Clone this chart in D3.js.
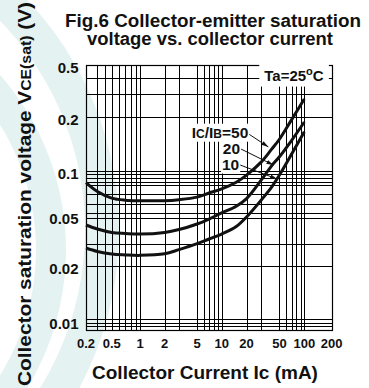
<!DOCTYPE html>
<html lang="en">
<head>
<meta charset="UTF-8">
<title>Fig.6 Collector-emitter saturation voltage</title>
<script src="https://cdn.jsdelivr.net/npm/d3@7"></script>
<style>
  body { margin: 0; background: #fff; }
  svg text { font-family: "Liberation Sans", Arial, sans-serif; font-weight: bold; fill: #111; }
</style>
</head>
<body>
<svg id="chart" width="369" height="388"></svg>
<script>
// collector current Ic (mA) where the curves were read
var ic = [0.2, 0.3, 0.5, 0.7, 1, 2, 3, 5, 7, 10, 15, 20, 30, 40, 50, 70, 100];
// VCE(sat) in volts for Ic/Ib = 50, 20, 10
var vce50 = [0.0837, 0.0730, 0.0659, 0.0638, 0.0633, 0.0633, 0.0643, 0.0669, 0.0713, 0.0759, 0.0841, 0.0939, 0.112, 0.1317, 0.150, 0.192, 0.274];
var vce20 = [0.0424, 0.0394, 0.0370, 0.0363, 0.0359, 0.0370, 0.0390, 0.0432, 0.0473, 0.0524, 0.0581, 0.0654, 0.0868, 0.1065, 0.120, 0.1475, 0.187];
var vce10 = [0.0278, 0.0261, 0.0249, 0.0245, 0.0243, 0.0250, 0.0270, 0.0301, 0.0328, 0.0359, 0.0412, 0.0491, 0.0638, 0.0777, 0.0939, 0.1238, 0.165];

var xTicks = [0.2, 0.5, 1, 2, 5, 10, 20, 50, 100, 200];
var yTicks = [0.5, 0.2, 0.1, 0.05, 0.02, 0.01];
var yTickLabels = ["0.5", "0.2", "0.1", "0.05", "0.02", "0.01"];

// grid lines as they appear on the scanned sheet (some are missing / doubled)
var xGrid = [0.3, 0.4, 0.5, 0.6, 0.7, 0.8, 0.9, 1, 2, 3, 5, 6, 7, 8, 9, 10, 20, 30, 50, 60, 70, 80, 90, 100];
var yGrid = [0.4, 0.3, 0.2, 0.1, 0.095, 0.09, 0.085, 0.08, 0.07, 0.06, 0.052, 0.048, 0.03, 0.02, 0.0102, 0.0098, 0.0094];
var yBottom = 0.0089;

// curve labels: text end point and leader line (data units)
var curveLabels = ["50", "20", "10"];
var labelPos = [[21, 0.152], [16.7, 0.1235], [16.3, 0.1013]];
var leaderFrom = [[21.4, 0.160], [17.1, 0.1324], [16.7, 0.108]];
var leaderTo = [[36.7, 0.136], [42.1, 0.108], [46.7, 0.0884]];

var svg = d3.select("#chart");

// the scanned grid is not perfectly even, so the log scales are piecewise
var x = d3.scaleLog()
    .domain([0.2, 0.5, 1, 10, 100, 200])
    .range([86, 111.7, 140, 221.7, 304.3, 331.7]);
var y = d3.scaleLog()
    .domain([0.5, 0.2, 0.1, 0.05, 0.02, 0.01])
    .range([65, 116.7, 171, 216, 266, 321]);

function crisp(v) { return Math.round(v) + 0.5; }

var pLeft = crisp(x(0.2)), pRight = crisp(x(200));
var pTop = crisp(y(0.5)), pBottom = crisp(y(yBottom));

// faint watermark arcs in the background
var arc = d3.arc();
svg.append("path")
    .attr("transform", "translate(-215,230)")
    .attr("d", arc({ innerRadius: 300, outerRadius: 334, startAngle: 0.6, endAngle: 2.4 }))
    .attr("fill", "#e5f2f2");
svg.append("path")
    .attr("transform", "translate(-200,250)")
    .attr("d", arc({ innerRadius: 236, outerRadius: 266, startAngle: 0.6, endAngle: 2.6 }))
    .attr("fill", "#e5f2f2");

// title
svg.append("text").attr("x", 213).attr("y", 26.5).attr("text-anchor", "middle")
    .attr("textLength", 296).attr("lengthAdjust", "spacingAndGlyphs")
    .style("font-size", "17.5px").text("Fig.6 Collector-emitter saturation");
svg.append("text").attr("x", 210).attr("y", 45).attr("text-anchor", "middle")
    .attr("textLength", 246).attr("lengthAdjust", "spacingAndGlyphs")
    .style("font-size", "17.5px").text("voltage vs. collector current");

// grid
var grid = svg.append("g").attr("stroke", "#000").attr("stroke-width", 1);
grid.selectAll(".vx").data(xGrid).enter().append("line")
    .attr("x1", function (d) { return crisp(x(d)); })
    .attr("x2", function (d) { return crisp(x(d)); })
    .attr("y1", pTop).attr("y2", pBottom);
grid.selectAll(".hy").data(yGrid).enter().append("line")
    .attr("y1", function (d) { return crisp(y(d)); })
    .attr("y2", function (d) { return crisp(y(d)); })
    .attr("x1", pLeft).attr("x2", pRight);
svg.append("rect")
    .attr("x", pLeft).attr("y", pTop)
    .attr("width", pRight - pLeft).attr("height", pBottom - pTop)
    .attr("fill", "none").attr("stroke", "#000").attr("stroke-width", 1.2);

// tick labels
svg.selectAll(".xt").data(xTicks).enter().append("text")
    .attr("x", function (d) { return x(d); })
    .attr("y", pBottom + 17)
    .attr("text-anchor", "middle")
    .style("font-size", "13px")
    .text(function (d) { return d; });
svg.selectAll(".yt").data(yTicks).enter().append("text")
    .attr("x", pLeft - 8)
    .attr("y", function (d) { return y(d) + 8; })
    .attr("text-anchor", "end")
    .style("font-size", "15px")
    .text(function (d, i) { return yTickLabels[i]; });

// axis titles
svg.append("text").attr("x", 205).attr("y", 379).attr("text-anchor", "middle")
    .style("font-size", "19px").text("Collector Current Ic (mA)");
var yt = svg.append("text")
    .attr("transform", "translate(31,194) rotate(-90)")
    .attr("text-anchor", "middle")
    .attr("textLength", 384).attr("lengthAdjust", "spacingAndGlyphs")
    .style("font-size", "18.5px");
yt.append("tspan").text("Collector saturation voltage V");
yt.append("tspan").style("font-size", "14px").text("CE(sat)");
yt.append("tspan").text(" (V)");

// curves
var series = [vce50, vce20, vce10];
var line = d3.line()
    .x(function (d, i) { return x(ic[i]); })
    .y(function (d) { return y(d); })
    .curve(d3.curveCatmullRom.alpha(0.5));
svg.selectAll(".curve").data(series).enter().append("path")
    .attr("d", function (d) { return line(d); })
    .attr("fill", "none").attr("stroke", "#111").attr("stroke-width", 3);

// white-backed labels
function boxed(g, pad) {
    var b = g.select("text").node().getBBox();
    g.insert("rect", "text")
        .attr("x", b.x - pad).attr("y", b.y - pad / 2)
        .attr("width", b.width + 2 * pad).attr("height", b.height + pad)
        .attr("fill", "#fff");
}

var ta = svg.append("g");
var taText = ta.append("text")
    .attr("x", x(75)).attr("y", y(0.376))
    .attr("text-anchor", "middle").style("font-size", "15px");
taText.append("tspan").text("Ta=25");
taText.append("tspan").attr("dy", -6).style("font-size", "11px").text("o");
taText.append("tspan").attr("dy", 6).text("C");
boxed(ta, 5);

// leader lines
var defs = svg.append("defs");
defs.append("marker").attr("id", "arr")
    .attr("viewBox", "0 0 10 10").attr("refX", 10).attr("refY", 5)
    .attr("markerWidth", 7).attr("markerHeight", 7).attr("orient", "auto")
    .append("path").attr("d", "M0,2L10,5L0,8Z").attr("fill", "#111");
svg.selectAll(".lead").data(curveLabels).enter().append("line")
    .attr("x1", function (d, i) { return x(leaderFrom[i][0]); })
    .attr("y1", function (d, i) { return y(leaderFrom[i][1]); })
    .attr("x2", function (d, i) { return x(leaderTo[i][0]); })
    .attr("y2", function (d, i) { return y(leaderTo[i][1]); })
    .attr("stroke", "#111").attr("stroke-width", 1)
    .attr("marker-end", "url(#arr)");

curveLabels.forEach(function (lab, i) {
    var g = svg.append("g");
    var t = g.append("text")
        .attr("x", x(labelPos[i][0])).attr("y", y(labelPos[i][1]))
        .attr("text-anchor", "end").style("font-size", "15.5px");
    if (i === 0) {
        t.append("tspan").text("I");
        t.append("tspan").style("font-size", "12px").text("C");
        t.append("tspan").text("/I");
        t.append("tspan").style("font-size", "12px").text("B");
        t.append("tspan").text("=" + lab);
    } else {
        t.text(lab);
    }
    boxed(g, 1);
});
</script>
</body>
</html>
